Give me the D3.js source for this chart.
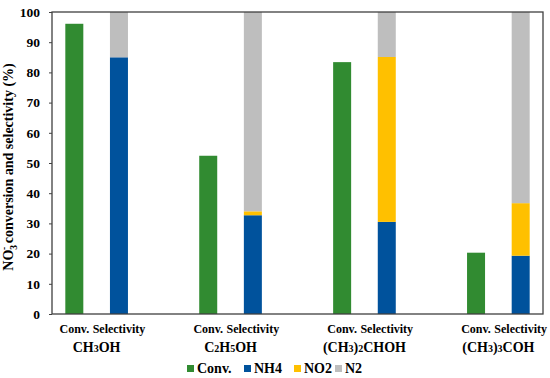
<!DOCTYPE html>
<html>
<head>
<meta charset="utf-8">
<script src="https://cdn.jsdelivr.net/npm/d3@7"></script>
<style>
  body { margin: 0; background: #fff; }
  svg text { font-family: "Liberation Serif", "Times New Roman", serif !important; font-weight: bold; fill: #000; }
</style>
</head>
<body>
<svg width="550" height="378"></svg>
<script>
// alcohols and values
var alcohols = ["CH3OH", "C2H5OH", "(CH3)2CHOH", "(CH3)3COH"];
var alcoholLabels = [["CH", "3", "OH"], ["C", "2", "H", "5", "OH"], ["(CH", "3", ")", "2", "CHOH"], ["(CH", "3", ")", "3", "COH"]];
var conversion = [96.1, 52.4, 83.4, 20.3];
var nh4 = [85.0, 32.7, 30.5, 19.3];
var no2 = [0.0, 1.3, 54.6, 17.4];
var n2 = [15.0, 66.0, 14.9, 63.3];
var seriesNames = ["Conv.", "NH4", "NO2", "N2"];
var colors = ["#318B31", "#00529C", "#FFC000", "#BEBEBE"];
var yTicks = [0, 10, 20, 30, 40, 50, 60, 70, 80, 90, 100];

var svg = d3.select("svg"),
    margin = {top: 12, right: 7, bottom: 64, left: 52},
    width = +svg.attr("width") - margin.left - margin.right,
    height = +svg.attr("height") - margin.top - margin.bottom;

var chartG = svg.append("g")
  .attr("transform", "translate(" + margin.left + "," + margin.top + ")");

// 11 slots: conv, sel, gap, conv, sel, gap ...
var slots = d3.range(11);
var x = d3.scaleBand().domain(slots).range([0, width]).padding(0);
var y = d3.scaleLinear().domain([0, 100]).range([height, 0]);
var barW = 18;

// y axis
var yAxisG = chartG.append("g")
  .call(d3.axisLeft(y).tickValues(yTicks).tickSize(3).tickSizeOuter(0));
yAxisG.attr("font-family", null).attr("font-size", null);
yAxisG.select(".domain").remove();
yAxisG.selectAll("line").attr("stroke", "#404040");
yAxisG.selectAll("text")
  .attr("x", -12)
  .style("font-size", "13.5px");

// conversion bars
chartG.selectAll(".conv")
  .data(conversion)
  .enter().append("rect")
  .attr("x", function(d, i) { return x(i * 3) + x.bandwidth() / 2 - barW / 2; })
  .attr("y", function(d) { return y(d); })
  .attr("width", barW)
  .attr("height", function(d) { return height - y(d); })
  .attr("fill", colors[0]);

// selectivity stacks
var selData = alcohols.map(function(a, i) {
  return {NH4: nh4[i], NO2: no2[i], N2: n2[i]};
});
var stack = d3.stack().keys(["NH4", "NO2", "N2"]);
var layers = stack(selData);

chartG.selectAll(".layer")
  .data(layers)
  .enter().append("g")
  .attr("fill", function(d, k) { return colors[k + 1]; })
  .selectAll("rect")
  .data(function(d) { return d; })
  .enter().append("rect")
  .attr("x", function(d, i) { return x(i * 3 + 1) + x.bandwidth() / 2 - barW / 2; })
  .attr("y", function(d) { return y(Math.min(d[1], 100)); })
  .attr("width", barW)
  .attr("height", function(d) { return y(d[0]) - y(Math.min(d[1], 100)); });

// frame
chartG.append("rect")
  .attr("width", width).attr("height", height)
  .attr("fill", "none").attr("stroke", "#404040").attr("stroke-width", 1.3);

// x category labels
alcohols.forEach(function(a, i) {
  var cx = x(i * 3) + x.bandwidth() / 2,
      sx = x(i * 3 + 1) + x.bandwidth() / 2;
  chartG.append("text").attr("x", cx).attr("y", height + 19)
    .attr("text-anchor", "middle").style("font-size", "12px").text("Conv.");
  chartG.append("text").attr("x", sx).attr("y", height + 19)
    .attr("text-anchor", "middle").style("font-size", "12px").text("Selectivity");
  var t = chartG.append("text").attr("x", (cx + sx) / 2).attr("y", height + 38)
    .attr("text-anchor", "middle").style("font-size", "14px");
  alcoholLabels[i].forEach(function(part, j) {
    t.append("tspan").style("font-size", j % 2 ? "10px" : "14px").text(part);
  });
});

// y label
var yl = svg.append("text")
  .attr("transform", "translate(13," + (margin.top + height / 2 + 4) + ") rotate(-90)")
  .attr("text-anchor", "middle")
  .style("font-size", "14px");
yl.append("tspan").text("NO");
yl.append("tspan").attr("dy", 4).style("font-size", "9.5px").text("3");
yl.append("tspan").attr("dy", -10).attr("dx", -5).style("font-size", "9.5px").text("-");
yl.append("tspan").attr("dy", 6).text(" conversion and selectivity (%)");

// legend
var legendX = [187, 244, 294, 335];
var legend = svg.append("g").attr("transform", "translate(0,368)");
seriesNames.forEach(function(s, i) {
  legend.append("rect").attr("x", legendX[i]).attr("y", -3).attr("width", 7).attr("height", 7)
    .attr("fill", colors[i]);
  legend.append("text").attr("x", legendX[i] + 10).attr("y", 5)
    .style("font-size", "14px").text(s);
});
</script>
</body>
</html>
